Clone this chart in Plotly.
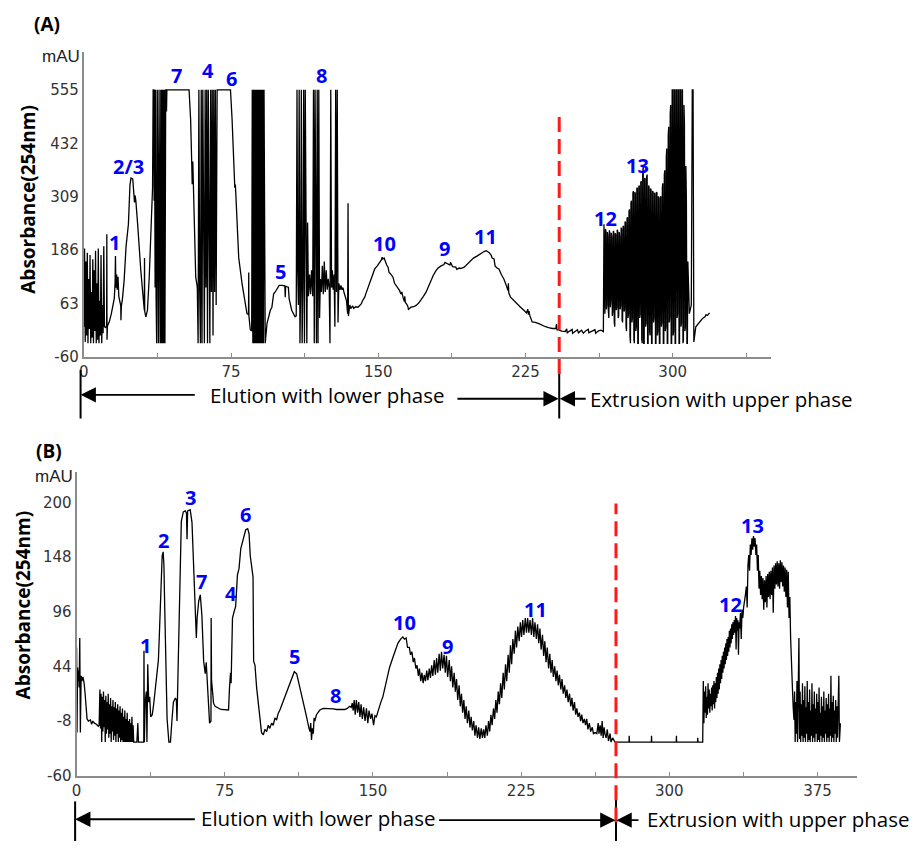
import plotly.graph_objects as go

W, H = 914, 850

# ---------------- Panel A: run with poor phase retention ----------------
# (time in min, absorbance in mAU); detector saturates at 555 mAU
a_front = [(0.0, 10), (0.35, 190), (0.7, -25), (1.05, 160), (1.4, -10), (1.75, 180), (2.1, -28),
           (2.45, 120), (2.8, 5), (3.15, 175), (3.5, -28), (3.85, 90), (4.2, -15), (4.55, 165),
           (4.9, -28), (5.25, 140), (5.6, 0), (5.95, 185), (6.3, -28), (6.65, 110), (7.0, -20),
           (7.35, 190), (7.7, -28), (8.05, 70), (8.4, -10), (8.75, 175), (9.1, -28), (9.45, 60),
           (9.8, -5), (10.15, 195), (10.5, 10)]
a_peaks_1_3 = [(11.0, 8), (11.6, 12), (11.7, 223), (11.8, -20), (12.0, 12), (13.0, 22), (14.0, 40),
               (14.7, 60), (15.5, 75), (15.9, 110), (16.1, 173), (16.3, 100), (16.7, 130), (17.0, 95),
               (17.4, 125), (17.8, 80), (18.3, 65), (18.8, 58), (18.9, 25), (19.1, 58), (19.6, 72),
               (20.5, 115), (21.5, 195), (22.7, 246), (23.5, 337), (24.0, 352), (24.9, 350),
               (25.4, 300), (25.8, 296), (26.1, 312), (26.5, 299), (27.4, 246), (28.2, 185),
               (29.0, 140), (29.9, 93), (30.8, 48), (30.9, 168), (31.0, 45), (31.6, 33), (32.4, 48),
               (33.3, 124), (34.1, 223), (35.0, 329), (35.3, 555)]
a_band_1 = [(35.6, 555), (35.8, 300), (36.0, 555), (36.3, 100), (36.5, 555), (36.8, 80), (37.1, -28),
            (37.4, 555), (37.7, 95), (38.0, -28), (38.3, 555), (38.6, 85), (38.9, -28), (39.2, 555),
            (39.5, -28), (39.8, 555), (40.1, -28), (40.4, 555), (40.7, -28), (41.0, 555), (41.3, -28),
            (41.7, 555)]
a_peak_7 = [(42.0, 555), (42.1, 505), (42.3, 555), (53.6, 555), (54.4, 486), (55.0, 380), (55.2, 338),
            (55.5, 390), (55.8, 345), (56.5, 200), (57.0, 124), (57.5, 110)]
a_band_2 = [(57.8, 100), (58.2, -28), (58.6, 555), (59.0, 95), (59.4, -28), (59.8, 555), (60.2, -28),
            (60.6, 555), (61.0, 90), (61.4, -28), (61.8, 555), (62.2, 100), (62.6, 555), (63.0, -28),
            (63.4, 555), (63.8, 95), (64.2, -28), (64.6, 555), (65.0, 90), (65.4, 555), (65.8, -10),
            (66.2, 555), (66.6, 90), (67.0, 555), (67.4, 60), (67.9, 555)]
a_peak_6 = [(74.7, 555), (75.5, 489), (76.4, 383), (76.9, 330), (77.2, 337), (78.1, 238), (78.9, 169),
            (80.6, 109), (82.3, 63), (83.1, 40), (83.9, 38), (84.0, 135), (84.1, 35), (84.8, 3),
            (85.5, 0)]
a_band_3 = [(85.8, 555), (86.1, -28), (86.4, 555), (86.7, -28), (87.0, 555), (87.3, -28), (87.6, 555),
            (87.9, -28), (88.2, 555), (88.5, -28), (88.8, 555), (89.1, -28), (89.4, 555), (89.7, -28),
            (90.0, 555), (90.3, -28), (90.6, 555), (90.9, -28), (91.2, 555), (91.5, -28), (91.8, 555),
            (92.1, -28), (92.4, -28)]
a_peak_5 = [(93.3, 17), (95.0, 48), (95.8, 55), (96.7, 86), (97.5, 90), (98.3, 97), (99.5, 105),
            (100.9, 105), (102.4, 104), (102.6, 78), (102.8, 103), (104.2, 101), (104.6, 74),
            (105.9, 48), (107.0, 40), (107.6, 33), (108.2, 35)]
a_band_8 = [(108.6, 555), (108.9, 150), (109.3, 60), (109.7, 555), (110.1, -28), (110.5, 120),
            (110.8, 555), (111.2, -28), (111.6, 100), (112.0, 555), (112.4, -28), (112.8, 555),
            (113.2, 90), (113.6, -28), (114.0, 250), (114.4, 80), (115.0, 130), (115.5, 85),
            (116.0, 140), (116.6, 80), (117.0, 555), (117.4, -28), (117.8, 555), (118.2, 100),
            (118.5, -28), (118.9, 555), (119.3, -28), (119.7, 555), (120.1, 30), (120.5, 120),
            (121.0, 90), (121.5, 150), (122.0, 85), (122.5, 160), (123.0, 90), (123.5, 140),
            (124.0, 95), (124.5, 120), (125.0, 100), (125.4, -28), (125.8, 555), (126.2, 100),
            (126.6, 140), (127.0, 95), (127.5, 130), (127.9, 10), (128.3, 555), (128.7, 90),
            (129.1, 555), (129.5, 20), (129.9, 110), (130.5, 95), (131.0, 105), (131.5, 95),
            (132.0, 100), (132.5, 90), (133.0, 80), (133.8, 70), (134.4, 40), (134.6, 294),
            (134.8, 35), (135.5, 60)]
a_peaks_10_11 = [(136.0, 52), (137.0, 58), (137.5, 52), (138.5, 56), (139.7, 55), (140.5, 60),
                 (141.4, 63), (142.0, 70), (143.1, 78), (143.6, 85), (144.8, 101), (145.5, 110),
                 (146.5, 124), (147.3, 132), (148.2, 143), (149.5, 150), (150.7, 158), (151.5, 163),
                 (152.0, 170), (152.4, 166), (153.0, 168), (153.6, 158), (154.3, 152), (155.0, 147),
                 (155.5, 135), (156.2, 132), (157.5, 124), (158.3, 110), (159.2, 105), (160.0, 98),
                 (160.9, 93), (161.5, 85), (162.0, 90), (162.6, 78), (163.3, 68), (163.5, 80),
                 (163.8, 66), (164.3, 63), (165.0, 58), (165.4, 50), (166.7, 55), (168.0, 56),
                 (169.3, 59), (170.5, 64), (171.8, 71), (173.0, 80), (174.4, 90), (175.6, 103),
                 (176.9, 116), (178.0, 128), (179.4, 139), (180.5, 145), (182.0, 150), (183.5, 153),
                 (184.0, 158), (185.3, 155), (186.5, 152), (186.8, 158), (187.9, 148), (189.5, 147),
                 (190.0, 142), (191.2, 145), (192.0, 144), (193.8, 147), (195.5, 155), (197.2, 162),
                 (198.5, 168), (200.5, 173), (202.0, 178), (203.9, 183), (205.0, 185), (206.4, 181),
                 (207.5, 175), (208.0, 168), (209.0, 166), (209.5, 150), (210.5, 145), (211.5, 143),
                 (212.7, 130), (214.0, 120), (215.0, 108), (216.1, 93), (216.3, 110), (216.5, 88),
                 (217.4, 78), (219.0, 70), (220.8, 63), (222.5, 55), (224.2, 48), (225.5, 42),
                 (226.2, 50), (226.5, 38), (226.8, 46), (227.2, 36), (228.4, 21)]
a_baseline = [(230.0, 20), (231.8, 17), (233.5, 13), (235.2, 10), (236.8, 8), (238.6, 6), (240.5, 6),
              (240.8, 16), (241.1, 3), (241.9, 3), (243.5, 0), (245.3, -1), (246.0, 5), (246.3, -4),
              (247.5, 0), (248.8, 4), (249.0, -5), (250.4, -1), (251.5, 3), (252.0, -4), (253.6, 2),
              (254.5, -5), (255.8, 1), (257.0, 4), (257.3, -4), (258.9, 0), (260.4, 3), (260.8, -5),
              (262.0, 0), (263.5, 2), (264.7, -1)]
a_band_12_13 = [(265.0, 246), (265.25, 60), (265.5, 40), (265.75, 235), (266.0, 230), (266.25, 50),
                (266.5, 60), (266.75, 228), (267.0, 220), (267.25, 45), (267.5, 30), (267.75, 232),
                (268.0, 225), (268.25, 55), (268.5, 70), (268.75, 226), (269.0, 215), (269.25, 35),
                (269.5, 45), (269.75, 230), (270.0, 228), (270.25, 20), (270.5, 10), (270.75, 225),
                (271.0, 222), (271.25, 48), (271.5, 55), (271.75, 233), (272.0, 230), (272.25, 30),
                (272.5, 35), (272.75, 228), (273.0, 218), (273.25, 50), (273.5, 60), (273.75, 238),
                (274.0, 235), (274.25, 25), (274.5, 20), (274.75, 242), (275.0, 240), (275.25, 45),
                (275.5, 50), (275.75, 252), (276.0, 250), (276.25, 10), (276.5, 0), (276.75, 260),
                (277.0, 262), (277.25, 30), (277.5, 40), (277.75, 275), (278.0, 280), (278.25, -10),
                (278.5, -28), (278.75, 295), (279.0, 300), (279.25, 20), (279.5, 30), (279.75, 318),
                (280.0, 322), (280.25, -20), (280.5, -28), (280.75, 320), (281.0, 315), (281.25, 0),
                (281.5, 10), (281.75, 328), (282.0, 330), (282.25, -28), (282.5, -28), (282.75, 332),
                (283.0, 335), (283.25, 30), (283.5, 40), (283.75, 342), (284.0, 345), (284.25, -20),
                (284.5, -28), (284.75, 360), (285.0, 380), (285.25, -28), (285.5, -28), (285.75, 352),
                (286.0, 350), (286.25, 10), (286.5, 20), (286.75, 355), (287.0, 360), (287.25, -28),
                (287.5, -28), (287.75, 335), (288.0, 330), (288.25, 0), (288.5, -10), (288.75, 328),
                (289.0, 325), (289.25, -28), (289.5, -28), (289.75, 322), (290.0, 320), (290.25, 20),
                (290.5, 30), (290.75, 318), (291.0, 315), (291.25, -28), (291.5, -28), (291.75, 320),
                (292.0, 318), (292.25, -10), (292.5, 0), (292.75, 310), (293.0, 305), (293.25, -28),
                (293.5, -28), (293.75, 308), (294.0, 310), (294.25, 10), (294.5, 20), (294.75, 330),
                (295.0, 340), (295.25, -28), (295.5, -28), (295.75, 360), (296.0, 370), (296.25, 0),
                (296.5, 10), (296.75, 400), (297.0, 420), (297.25, -28), (297.5, -28), (297.75, 450),
                (298.0, 470), (298.25, 20), (298.5, 30), (298.75, 500), (299.0, 520), (299.25, -28),
                (299.5, -28), (299.75, 555), (300.0, 555), (300.25, -10), (300.5, 0), (300.75, 555),
                (301.0, 555), (301.25, -28), (301.5, -28), (301.75, 555), (302.0, 555), (302.25, 30),
                (302.5, 40), (302.75, 555), (303.0, 555), (303.25, -28), (303.5, -28), (303.75, 555),
                (304.0, 555), (304.25, 10), (304.5, 20), (304.75, 555), (305.0, 555), (305.25, -28),
                (305.5, -20), (305.75, 520), (306.0, 480), (306.25, 0), (306.5, 10), (306.75, 380),
                (307.0, 300), (307.25, -28), (307.5, -28), (307.75, 160), (308.0, 100)]
a_end = [(308.5, 40), (309.5, 60), (310.0, 555), (310.4, 555), (310.8, -25), (311.8, 10), (313.5, 21),
         (315.2, 29), (316.5, 33), (317.0, 38), (317.7, 36), (318.8, 42)]

a_segments = [a_front, a_peaks_1_3, a_band_1, a_peak_7, a_band_2, a_peak_6, a_band_3, a_peak_5,
              a_band_8, a_peaks_10_11, a_baseline, a_band_12_13, a_end]

a_xticks = [0, 75, 150, 225, 300]
a_yticks = [-60, 63, 186, 309, 432, 555]
a_switch = 242.2  # change from elution to extrusion (min)

a_peak_names = ["1", "2/3", "7", "4", "6", "5", "8", "10", "9", "11", "12", "13"]
a_peak_t = [15.6, 22.7, 47.4, 63.4, 75.4, 100.3, 121.1, 153.1, 183.5, 204.6, 265.9, 282.1]
a_peak_y = [204, 378, 589, 599, 580, 138, 588, 202, 189, 217, 259, 380]

# ---------------- Panel B: optimised run ----------------
b_front = [(0.0, 62), (0.2, -19), (0.5, 43), (0.8, 30), (1.0, 40), (1.3, 24), (1.6, 71), (1.9, -19),
           (2.3, 35), (2.7, 30), (3.2, 34), (3.8, 28), (4.3, 18), (4.8, 5), (5.3, -6), (6.0, -8),
           (7.0, -7), (7.6, -11), (8.2, -8), (9.0, -10), (10.0, -11), (11.0, -13), (11.4, -12)]
b_noise_1 = [(11.8, 22), (12.1, -15), (12.4, 18), (12.7, -28), (13.0, 15), (13.3, -18), (13.6, 20),
             (13.9, -14), (14.2, 12), (14.5, -28), (14.8, 16), (15.1, -20), (15.4, 10), (15.7, -16),
             (16.0, 18), (16.3, -24), (16.6, 8), (16.9, -20), (17.2, 14), (17.5, -28), (17.8, 6),
             (18.1, -18), (18.4, 12), (18.7, -26), (19.0, 5), (19.3, -22), (19.6, 10), (19.9, -28),
             (20.2, 4), (20.5, -20), (20.8, 8), (21.1, -28), (21.4, 2), (21.7, -24), (22.0, 6),
             (22.3, -28), (22.6, 0), (22.9, -26), (23.2, 4), (23.5, -28), (23.8, -4), (24.1, -28),
             (24.4, 2), (24.7, -28), (25.0, -6), (25.3, -28), (25.6, 0), (25.9, -28), (26.2, -8),
             (26.5, -28), (26.8, -6), (27.1, -28), (27.4, -10), (27.7, -28), (28.0, -4), (28.3, -28),
             (28.6, -12), (28.9, -28), (29.5, -28), (30.5, -28), (31.0, -10), (31.3, -28), (32.0, -28),
             (33.0, -28), (33.8, -28)]
b_peaks_1_5 = [(34.0, -28), (34.1, 59), (34.3, -28), (34.7, 10), (35.3, 20), (35.6, -28), (36.0, 46),
               (36.5, 10), (37.0, 15), (37.5, -4), (38.3, -2), (39.0, 8), (39.8, 24), (40.6, 40),
               (41.4, 50), (42.0, 80), (42.6, 124), (43.3, 149), (43.8, 153), (44.2, 140), (44.6, 100),
               (45.2, 55), (45.8, -6), (46.7, -28), (47.5, -28), (48.3, -6), (49.0, 10), (50.0, 14),
               (50.5, 12), (50.8, -8), (51.0, 12), (51.5, 50), (52.0, 100), (52.5, 150), (53.0, 182),
               (54.0, 191), (55.0, 192), (55.6, 190), (55.9, 165), (56.2, 192), (57.5, 193),
               (58.4, 181), (59.2, 134), (60.1, 99), (60.6, 71), (61.0, 90), (61.8, 106), (62.6, 112),
               (63.0, 104), (63.4, 93), (64.3, 49), (65.1, 37), (65.6, 48), (66.3, 18), (66.8, -1),
               (67.3, -10), (68.0, -8), (68.1, 90), (68.3, 31), (69.3, 9), (70.1, 6), (73.0, 3),
               (76.9, 2.5), (77.4, 24), (77.9, 38), (78.2, 28), (78.9, 90), (79.7, 96), (80.5, 101),
               (81.4, 131), (82.2, 137), (83.1, 156), (83.9, 162), (84.7, 168), (85.6, 174),
               (86.6, 175), (87.3, 170), (87.9, 149), (88.6, 137), (89.3, 129), (89.6, 49),
               (90.3, 45), (91.1, 24), (92.0, 9), (92.8, -10), (93.6, -19), (94.5, -21), (95.3, -16),
               (96.2, -18), (97.0, -12), (97.8, -15), (98.7, -10), (99.5, -12), (100.4, -5),
               (101.2, -7), (102.0, -1), (103.0, 3), (104.0, 8), (105.4, 15), (106.5, 20),
               (107.9, 28), (109.0, 34), (110.2, 39)]
b_peaks_8_10 = [(111.4, 37), (113.1, 24), (114.7, 9), (116.4, -4), (117.5, -14), (118.1, -18),
                (118.5, -10), (118.9, -26), (119.3, -15), (119.8, -20), (120.2, -5), (120.6, -8),
                (121.4, -2), (123.1, 2.5), (124.8, 4), (126.5, 4), (128.2, 4), (130.0, 3.5),
                (131.5, 3), (133.0, 3), (135.7, 3), (137.0, 4), (138.2, 6), (139.0, 5), (139.5, 9),
                (140.0, 2), (140.5, 12), (141.0, -2), (141.6, 12), (142.2, 0), (142.8, 10),
                (143.4, -4), (144.0, 8), (144.6, -6), (145.3, 5), (146.0, -8), (146.7, 4),
                (147.4, -10), (148.0, 2), (148.8, -6), (149.5, -1), (150.3, -12), (151.0, -3),
                (151.7, -4), (152.7, 3), (154.0, 10), (155.0, 15), (156.7, 30), (158.4, 43),
                (160.0, 52), (161.5, 60), (162.6, 66), (164.0, 70), (165.1, 72), (166.0, 70),
                (166.8, 71)]
b_peaks_9_11 = [(167.5, 62), (168.4, 62), (169.0, 55), (169.7, 58), (170.4, 48), (171.0, 52),
                (171.7, 42), (172.3, 45), (173.0, 35), (173.5, 42), (174.2, 30), (174.8, 38),
                (175.4, 28), (176.0, 36), (176.6, 30), (177.2, 40), (177.8, 31), (178.5, 42),
                (179.1, 33), (179.7, 45), (180.3, 35), (181.0, 50), (181.6, 36), (182.2, 52),
                (182.8, 38), (183.5, 56), (184.1, 40), (184.7, 58), (185.3, 42), (186.0, 55),
                (186.6, 38), (187.2, 54), (187.8, 34), (188.6, 50), (189.2, 30), (189.8, 44),
                (190.4, 24), (191.1, 38), (191.7, 20), (192.3, 32), (192.9, 12), (193.6, 26),
                (194.2, 6), (194.8, 18), (195.4, 0), (196.0, 12), (196.6, -6), (197.2, 6),
                (197.8, -10), (198.5, 2), (199.1, -14), (199.7, -4), (200.3, -17), (201.0, -8),
                (201.6, -22), (202.2, -12), (202.9, -24), (203.5, -14), (204.1, -25), (204.8, -15),
                (205.4, -24), (206.0, -16), (206.6, -24), (207.2, -12), (207.9, -22), (208.5, -8),
                (209.1, -18), (209.7, -2), (210.3, -12), (211.0, 4), (211.6, -6), (212.2, 12),
                (212.8, 0), (213.4, 20), (214.0, 8), (214.6, 28), (215.2, 14), (215.9, 38),
                (216.5, 22), (217.1, 46), (217.7, 30), (218.4, 55), (219.0, 38), (219.6, 64),
                (220.2, 46), (220.8, 70), (221.5, 56), (222.1, 78), (222.7, 62), (223.3, 82),
                (224.0, 68), (224.6, 86), (225.2, 72), (225.8, 88), (226.4, 74), (227.1, 90),
                (227.7, 76), (228.3, 90), (228.9, 76), (229.5, 88), (230.2, 74), (230.8, 90),
                (231.4, 72), (232.0, 86), (232.7, 70), (233.3, 84), (233.9, 66), (234.5, 80),
                (235.1, 60), (235.8, 74), (236.4, 54), (237.0, 68), (237.6, 48), (238.2, 62),
                (238.9, 42), (239.5, 56), (240.1, 38), (240.7, 50), (241.3, 34), (242.0, 44),
                (242.6, 30), (243.2, 40), (243.8, 26), (244.4, 36), (245.1, 22), (245.7, 32),
                (246.3, 18), (247.0, 26), (247.6, 14), (248.2, 22), (248.8, 10), (249.5, 18),
                (250.1, 6), (250.7, 14), (251.3, 2), (252.0, 10), (252.6, -2), (253.2, 4),
                (253.8, -4), (254.5, 0), (255.1, -8), (255.7, -2), (256.3, -10), (257.0, -6),
                (257.6, -12), (258.2, -6), (258.8, -16), (259.5, -10), (260.2, -18), (261.0, -14),
                (261.6, -20), (262.5, -19), (263.3, -20), (264.0, -10), (264.4, -20), (265.0, -12),
                (265.5, -22), (266.0, -8), (266.5, -24), (267.0, -14), (267.4, -20), (268.0, -24),
                (268.6, -16), (269.2, -27), (270.0, -20), (270.5, -28), (271.3, -24), (272.5, -28)]
b_baseline = [(275.0, -28), (279.6, -28), (279.7, -22), (279.8, -28), (290.9, -28), (291.0, -22),
              (291.1, -28), (303.5, -28), (303.6, -22), (303.7, -28), (314.3, -28), (314.4, -24),
              (314.5, -28), (316.9, -28)]
b_peaks_12_13 = [(316.9, 8), (317.2, 30), (317.5, -10), (317.8, 20), (318.1, 0), (318.4, 25),
                 (318.7, -5), (319.0, 15), (319.3, -2), (319.6, 28), (319.9, 4), (320.2, 22),
                 (320.5, 0), (320.8, 18), (321.1, 6), (321.4, 24), (321.7, 2), (322.0, 26),
                 (322.3, 8), (322.6, 30), (322.9, 4), (323.2, 28), (323.5, 10), (323.8, 34),
                 (324.1, 14), (324.4, 38), (324.7, 18), (325.0, 42), (325.3, 22), (325.6, 46),
                 (325.9, 28), (326.2, 50), (326.5, 32), (326.8, 54), (327.1, 38), (327.4, 58),
                 (327.7, 42), (328.0, 62), (328.3, 46), (328.6, 66), (328.9, 50), (329.2, 70),
                 (329.5, 54), (329.8, 72), (330.1, 58), (330.4, 78), (330.7, 62), (331.0, 80),
                 (331.3, 66), (331.6, 84), (331.9, 70), (332.2, 86), (332.5, 74), (332.9, 88),
                 (333.2, 76), (333.5, 92), (333.8, 60), (334.1, 90), (334.4, 78), (334.7, 88),
                 (335.0, 55), (335.3, 86), (335.6, 80), (336.0, 95), (336.4, 70), (336.8, 98),
                 (337.2, 90), (337.6, 100), (338.0, 108), (338.5, 112), (339.0, 120), (339.4, 100),
                 (339.8, 140), (340.2, 150), (340.6, 135), (341.0, 160), (341.4, 150), (341.8, 166),
                 (342.2, 155), (342.6, 168), (343.0, 158), (343.4, 166), (343.8, 150), (344.2, 160),
                 (344.6, 135), (345.0, 150), (345.4, 118), (345.8, 135), (346.2, 112), (346.6, 130),
                 (347.0, 108), (347.4, 128), (347.8, 98), (348.2, 126), (348.6, 105), (349.0, 130),
                 (349.4, 100), (349.8, 132), (350.2, 110), (350.6, 134), (351.0, 108), (351.4, 135),
                 (351.8, 112), (352.2, 138), (352.6, 95), (353.0, 140), (353.4, 118), (353.8, 142),
                 (354.2, 122), (354.6, 144), (355.0, 120), (355.4, 142), (355.8, 118), (356.2, 145),
                 (356.6, 124), (357.0, 143), (357.4, 120), (357.8, 140), (358.2, 115), (358.6, 138),
                 (359.0, 110), (359.4, 136), (359.8, 100), (360.2, 134), (360.6, 90), (361.0, 110),
                 (361.4, 71), (361.8, 40), (362.3, 24), (362.7, 5), (363.1, -7)]
b_tail = [(363.4, 20), (363.7, -28), (364.0, 10), (364.3, -20), (364.6, 30), (364.9, -28), (365.2, 15),
          (365.6, 71), (365.9, -25), (366.2, 20), (366.5, -28), (366.8, 8), (367.1, -22), (367.4, 28),
          (367.7, -28), (368.0, 12), (368.3, -24), (368.6, 25), (368.9, -28), (369.2, 5), (369.5, -20),
          (369.8, 30), (370.1, -28), (370.4, 10), (370.7, -26), (371.0, 22), (371.3, -28), (371.6, 2),
          (371.9, -22), (372.2, 28), (372.5, -28), (372.8, 8), (373.1, -24), (373.4, 20), (373.7, -28),
          (374.0, 4), (374.3, -20), (374.6, 18), (374.9, -28), (375.2, 10), (375.5, -26), (375.8, 24),
          (376.1, -28), (376.4, 0), (376.7, -22), (377.0, 15), (377.3, -28), (377.6, 6), (377.9, -24),
          (378.2, 20), (378.5, -28), (378.8, 2), (379.1, -20), (379.4, 14), (379.7, -28), (380.0, 8),
          (380.3, -24), (380.6, 18), (380.9, -28), (381.2, 4), (381.5, -22), (381.8, 35), (382.1, -28),
          (382.4, 10), (382.7, -24), (383.0, 16), (383.3, -28), (383.6, 2), (383.9, -20), (384.2, 12),
          (384.5, -28), (384.8, 6), (385.1, -24), (385.5, 14), (385.8, 35), (386.1, -28), (386.6, -10)]

b_segments = [b_front, b_noise_1, b_peaks_1_5, b_peaks_8_10, b_peaks_9_11, b_baseline,
              b_peaks_12_13, b_tail]

b_xticks = [0, 75, 150, 225, 300, 375]
b_yticks = [-60, -8, 44, 96, 148, 200]
b_switch = 273.0

b_peak_names = ["1", "2", "3", "7", "4", "6", "5", "8", "10", "9", "11", "12", "13"]
b_peak_t = [35.1, 43.9, 57.7, 63.1, 77.9, 85.6, 110.1, 131.0, 166.0, 187.8, 232.2, 331.2, 342.2]
b_peak_y = [63.5, 163.5, 205, 125, 113, 188.6, 53.2, 16.6, 86, 62.6, 97.9, 102.6, 178.3]


def unzip(segments):
    t, v = [], []
    for seg in segments:
        for a, b in seg:
            t.append(a)
            v.append(b)
    return t, v


def px(x):
    return x / W


def py(y):
    return 1 - y / H


# axis frames (paper fractions) and ranges
A_XDOM, A_XRANGE = [px(79.3), px(770)], [0, 350]
A_YDOM, A_YRANGE = [py(361), py(53)], [-60, 641]
B_XDOM, B_XRANGE = [px(72), px(856.7)], [0, 395]
B_YDOM, B_YRANGE = [py(784), py(477)], [-60, 229]


def to_paper_x(t, dom, rng):
    return dom[0] + (t - rng[0]) / (rng[1] - rng[0]) * (dom[1] - dom[0])


a_t, a_v = unzip(a_segments)
b_t, b_v = unzip(b_segments)

fig = go.Figure()
line_style = dict(color="black", width=1.3)
fig.add_trace(go.Scatter(x=a_t, y=a_v, mode="lines", line=line_style, xaxis="x", yaxis="y",
                         showlegend=False, hoverinfo="skip"))
fig.add_trace(go.Scatter(x=b_t, y=b_v, mode="lines", line=line_style, xaxis="x2", yaxis="y2",
                         showlegend=False, hoverinfo="skip"))

TICK_FONT = dict(family="DejaVu Sans", size=15, color="#333333")
AX_COLOR = "#8c8c8c"


def x_axis(dom, rng, ticks, anchor):
    vals, text = [], []
    v = 0.0
    while v <= rng[1]:
        vals.append(v)
        text.append(str(int(v)) if v in ticks else "")
        v += 37.5
    return dict(domain=dom, range=rng, anchor=anchor, showline=True, linecolor=AX_COLOR,
                linewidth=2, ticks="inside", ticklen=4, tickcolor=AX_COLOR, tickwidth=1,
                tickvals=vals, ticktext=text, tickfont=TICK_FONT, showgrid=False,
                zeroline=False, fixedrange=True)


def y_axis(dom, rng, ticks, anchor):
    return dict(domain=dom, range=rng, anchor=anchor, showline=True, linecolor=AX_COLOR,
                linewidth=2, ticks="", tickvals=ticks, ticktext=[str(t) for t in ticks],
                tickfont=TICK_FONT, showgrid=False, zeroline=False, fixedrange=True)


annotations = []
BLUE = "#0000ff"
PEAK_FONT = dict(family="Open Sans", size=20, color=BLUE, weight="bold")
for name, t, v in zip(a_peak_names, a_peak_t, a_peak_y):
    annotations.append(dict(x=t, y=v, xref="x", yref="y", text=name, showarrow=False,
                            font=PEAK_FONT, xanchor="center", yanchor="middle"))
for name, t, v in zip(b_peak_names, b_peak_t, b_peak_y):
    annotations.append(dict(x=t, y=v, xref="x2", yref="y2", text=name, showarrow=False,
                            font=PEAK_FONT, xanchor="center", yanchor="middle"))

TITLE_FONT = dict(family="Open Sans", size=19, color="black", weight="bold")
LABEL_FONT = dict(family="Open Sans", size=19, color="black", weight="bold")
UNIT_FONT = dict(family="Liberation Sans", size=17, color="#222")
PHASE_FONT = dict(family="Open Sans", size=20.5, color="black")

for (lx, ly, txt, font, ang) in [
    (42.5, 24, "(A)", LABEL_FONT, 0),
    (44, 456, "(B)", LABEL_FONT, 0),
    (56, 57, "mAU", UNIT_FONT, 0),
    (49, 482, "mAU", UNIT_FONT, 0),
    (23, 201, "Absorbance(254nm)", TITLE_FONT, -90),
    (18, 611, "Absorbance(254nm)", TITLE_FONT, -90),
]:
    annotations.append(dict(x=px(lx), y=py(ly), xref="paper", yref="paper", text=txt,
                            showarrow=False, font=font, textangle=ang,
                            xanchor="center", yanchor="middle"))

# phase captions under each panel
a_sw_px = to_paper_x(a_switch, A_XDOM, A_XRANGE) * W
b_sw_px = to_paper_x(b_switch, B_XDOM, B_XRANGE) * W
for (lx, ly, txt) in [(204, 399, "Elution with lower phase"),
                      (a_sw_px + 29, 403, "Extrusion with upper phase"),
                      (195, 827, "Elution with lower phase"),
                      (b_sw_px + 29, 828, "Extrusion with upper phase")]:
    annotations.append(dict(x=px(lx), y=py(ly), xref="paper", yref="paper", text=txt,
                            showarrow=False, font=PHASE_FONT, xanchor="left", yanchor="middle"))

# arrows: (tip x, tip y, tail x, tail y) in pixels
arrows = [(76, 399, 191.7, 399), (a_sw_px - 0.5, 403, 454, 403), (a_sw_px + 0.5, 403, a_sw_px + 28, 403),
          (70.5, 828, 191.7, 828), (b_sw_px - 0.5, 829, 436, 829), (b_sw_px + 0.5, 829, b_sw_px + 24, 829)]
for tx, ty, sx, sy in arrows:
    annotations.append(dict(x=px(tx), y=py(ty), xref="paper", yref="paper", text="",
                            showarrow=True, ax=sx - tx, ay=sy - ty, axref="pixel", ayref="pixel",
                            arrowhead=2, arrowsize=1.7, arrowwidth=1.8, arrowcolor="black",
                            standoff=0, startstandoff=0))

shapes = []
# black phase-boundary ticks below the axes
for x0, y0, y1 in [(76, 374, 423), (a_sw_px, 376, 423), (70.5, 810, 850), (b_sw_px, 807, 850)]:
    shapes.append(dict(type="line", xref="paper", yref="paper", x0=px(x0), x1=px(x0),
                       y0=py(y1), y1=py(y0), line=dict(color="black", width=2), layer="above"))
# red dashed phase switch markers
shapes.append(dict(type="line", xref="x", yref="paper", x0=a_switch, x1=a_switch,
                   y0=py(378), y1=py(116), line=dict(color="#ff1a1a", width=3, dash="15px,7px"),
                   layer="above"))
shapes.append(dict(type="line", xref="x2", yref="paper", x0=b_switch, x1=b_switch,
                   y0=py(831), y1=py(509), line=dict(color="#ff1a1a", width=3, dash="15px,7px"),
                   layer="above"))

fig.update_layout(
    width=W, height=H, autosize=False,
    margin=dict(l=0, r=0, t=0, b=0),
    paper_bgcolor="white", plot_bgcolor="white",
    xaxis=x_axis(A_XDOM, A_XRANGE, a_xticks, "y"),
    yaxis=y_axis(A_YDOM, A_YRANGE, a_yticks, "x"),
    xaxis2=x_axis(B_XDOM, B_XRANGE, b_xticks, "y2"),
    yaxis2=y_axis(B_YDOM, B_YRANGE, b_yticks, "x2"),
    annotations=annotations,
    shapes=shapes,
    showlegend=False,
)

fig.write_html("out.html")
